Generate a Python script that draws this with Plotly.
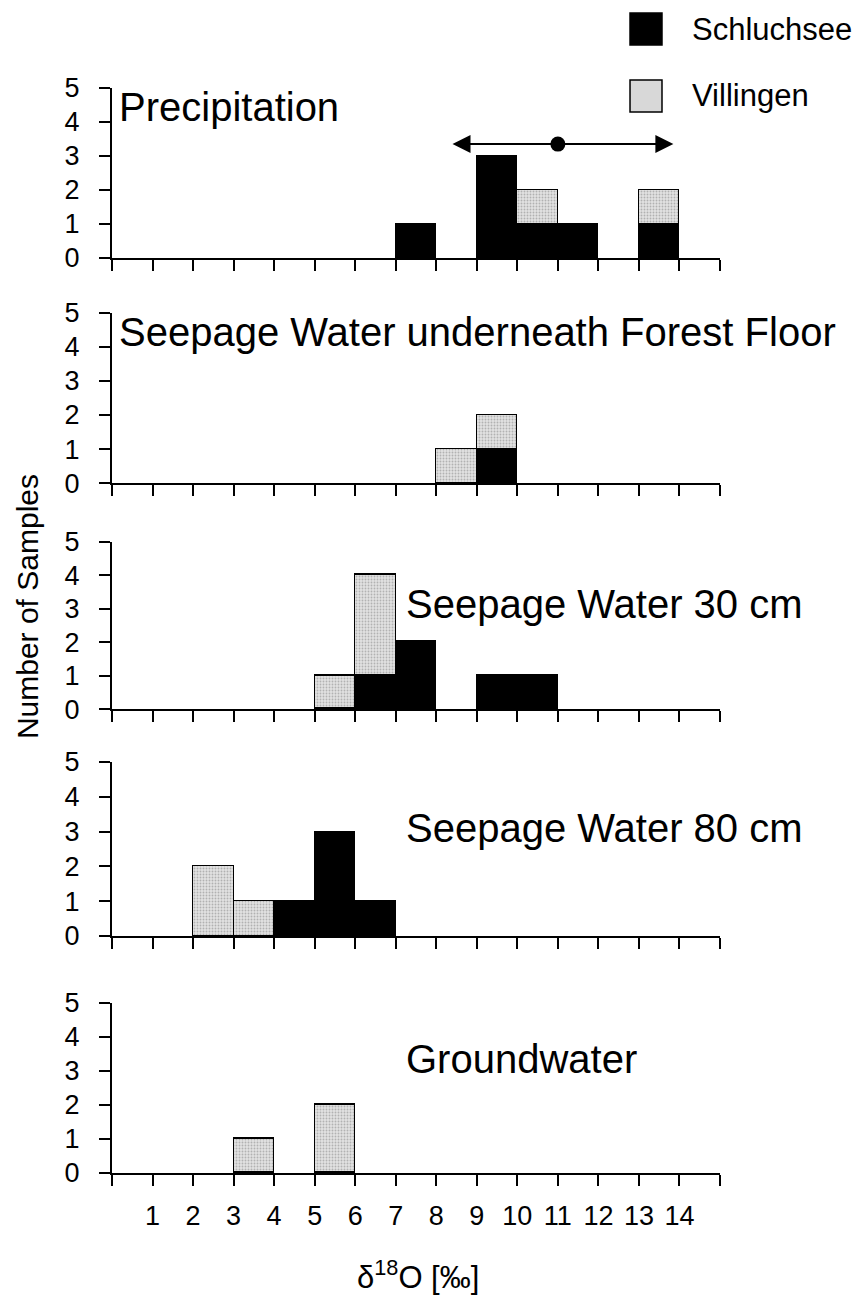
import plotly.graph_objects as go

# ---------------- data ----------------
bin_left = [0, 1, 2, 3, 4, 5, 6, 7, 8, 9, 10, 11, 12, 13, 14]
x_tick_vals = [0, 1, 2, 3, 4, 5, 6, 7, 8, 9, 10, 11, 12, 13, 14, 15]
x_tick_text = ["", "1", "2", "3", "4", "5", "6", "7", "8", "9", "10", "11", "12", "13", "14", ""]
y_tick_vals = [0, 1, 2, 3, 4, 5]

panel_titles = ["Precipitation", "Seepage Water underneath Forest Floor",
                "Seepage Water 30 cm", "Seepage Water 80 cm", "Groundwater"]

schluchsee_precip = [0, 0, 0, 0, 0, 0, 0, 1, 0, 3, 1, 1, 0, 1, 0]
villingen_precip  = [0, 0, 0, 0, 0, 0, 0, 0, 0, 0, 1, 0, 0, 1, 0]
schluchsee_forest = [0, 0, 0, 0, 0, 0, 0, 0, 0, 1, 0, 0, 0, 0, 0]
villingen_forest  = [0, 0, 0, 0, 0, 0, 0, 0, 1, 1, 0, 0, 0, 0, 0]
schluchsee_30cm   = [0, 0, 0, 0, 0, 0, 1, 2, 0, 1, 1, 0, 0, 0, 0]
villingen_30cm    = [0, 0, 0, 0, 0, 1, 3, 0, 0, 0, 0, 0, 0, 0, 0]
schluchsee_80cm   = [0, 0, 0, 0, 1, 3, 1, 0, 0, 0, 0, 0, 0, 0, 0]
villingen_80cm    = [0, 0, 2, 1, 0, 0, 0, 0, 0, 0, 0, 0, 0, 0, 0]
schluchsee_gw     = [0, 0, 0, 0, 0, 0, 0, 0, 0, 0, 0, 0, 0, 0, 0]
villingen_gw      = [0, 0, 0, 1, 0, 2, 0, 0, 0, 0, 0, 0, 0, 0, 0]

precip_range = [8.4, 13.85]
precip_mean = 11.0
precip_marker_level = 3.35

schluchsee_sets = [schluchsee_precip, schluchsee_forest, schluchsee_30cm, schluchsee_80cm, schluchsee_gw]
villingen_sets = [villingen_precip, villingen_forest, villingen_30cm, villingen_80cm, villingen_gw]

# ---------------- layout params ----------------
FONT = "Liberation Sans, Arial, Helvetica, sans-serif"
domains = [[0.8433, 1.0], [0.6359, 0.7926], [0.4276, 0.5816], [0.2184, 0.3788], [0.0, 0.1567]]
title_pos = [(0.12, 4.45), (0.12, 4.45), (7.2, 3.15), (7.2, 3.1), (7.2, 3.35)]

fig = go.Figure()
layout = dict(
    width=854, height=1288,
    margin=dict(l=104, r=142, t=80, b=123),
    paper_bgcolor="white", plot_bgcolor="white",
    barmode="stack", bargap=0,
    showlegend=False,
    font=dict(family=FONT, color="black"),
)

annotations = []
for i in range(5):
    xa = "x" if i == 0 else f"x{i+1}"
    ya = "y" if i == 0 else f"y{i+1}"
    s = schluchsee_sets[i]
    v = villingen_sets[i]
    sx = [b + 0.5 for b, val in zip(bin_left, s) if val > 0]
    sy = [val for val in s if val > 0]
    vx = [b + 0.5 for b, val in zip(bin_left, v) if val > 0]
    vy = [val for val in v if val > 0]
    fig.add_trace(go.Bar(
        x=sx, y=sy, width=1, xaxis=xa, yaxis=ya, name="Schluchsee",
        marker=dict(color="black", line=dict(color="black", width=1.5)),
        hoverinfo="skip"))
    fig.add_trace(go.Bar(
        x=vx, y=vy, width=1, xaxis=xa, yaxis=ya, name="Villingen",
        marker=dict(color="#dadada", line=dict(color="black", width=1.5),
                    pattern=dict(shape=".", fgcolor="#808080", bgcolor="#e2e2e2",
                                 size=3, solidity=0.3)),
        hoverinfo="skip"))

    xkey = "xaxis" if i == 0 else f"xaxis{i+1}"
    ykey = "yaxis" if i == 0 else f"yaxis{i+1}"
    layout[xkey] = dict(
        domain=[0, 1], anchor=ya, range=[0, 15],
        tickmode="array", tickvals=x_tick_vals, ticktext=x_tick_text,
        showticklabels=(i == 4), ticks="outside", ticklen=11, tickwidth=2,
        tickcolor="black", showline=True, linewidth=2, linecolor="black",
        showgrid=False, zeroline=False,
        tickfont=dict(size=27, family=FONT, color="black"),
        ticklabelstandoff=7,
    )
    layout[ykey] = dict(
        domain=domains[i], anchor=xa, range=[0, 5],
        tickmode="array", tickvals=y_tick_vals,
        ticks="outside", ticklen=11, tickwidth=2, tickcolor="black",
        showline=True, linewidth=2, linecolor="black",
        showgrid=False, zeroline=False,
        tickfont=dict(size=27, family=FONT, color="black"),
        ticklabelstandoff=14,
    )
    tx, ty = title_pos[i]
    annotations.append(dict(
        text=panel_titles[i], x=tx, y=ty, xref=xa, yref=ya,
        xanchor="left", yanchor="middle", showarrow=False,
        font=dict(size=40, family=FONT, color="black")))

# precipitation mean and range arrow
for end in precip_range:
    annotations.append(dict(
        x=end, y=precip_marker_level, ax=precip_mean, ay=precip_marker_level,
        xref="x", yref="y", axref="x", ayref="y", text=" ",
        showarrow=True, arrowhead=2, arrowsize=1.8, arrowwidth=2,
        arrowcolor="black", font=dict(size=10)))
fig.add_trace(go.Scatter(
    x=[precip_mean], y=[precip_marker_level], mode="markers",
    marker=dict(color="black", size=15), xaxis="x", yaxis="y",
    hoverinfo="skip"))

# axis titles
annotations.append(dict(
    text="Number of Samples", x=-0.139, y=0.522, xref="paper", yref="paper",
    textangle=-90, showarrow=False, xanchor="center", yanchor="middle",
    font=dict(size=30, family=FONT, color="black")))
annotations.append(dict(
    text="δ<sup>18</sup>O [‰]", x=0.503, y=-0.094, xref="paper", yref="paper",
    showarrow=False, xanchor="center", yanchor="middle",
    font=dict(size=31, family=FONT, color="black")))

# legend (manual)
legend_names = ["Schluchsee", "Villingen"]
legend_fill = ["black", "#d8d8d8"]
legend_y = [(1.0396, 1.0691), (0.9779, 1.0074)]
shapes = []
for name, fill, (y0, y1) in zip(legend_names, legend_fill, legend_y):
    shapes.append(dict(type="rect", xref="paper", yref="paper",
                       x0=0.852, x1=0.9046, y0=y0, y1=y1,
                       fillcolor=fill, line=dict(color="black", width=1.5)))
    annotations.append(dict(
        text=name, x=0.9507, y=(y0 + y1) / 2, xref="paper", yref="paper",
        xanchor="left", yanchor="middle", showarrow=False,
        font=dict(size=31, family=FONT, color="black")))

layout["annotations"] = annotations
layout["shapes"] = shapes
fig.update_layout(**layout)
fig.write_html("out.html")
